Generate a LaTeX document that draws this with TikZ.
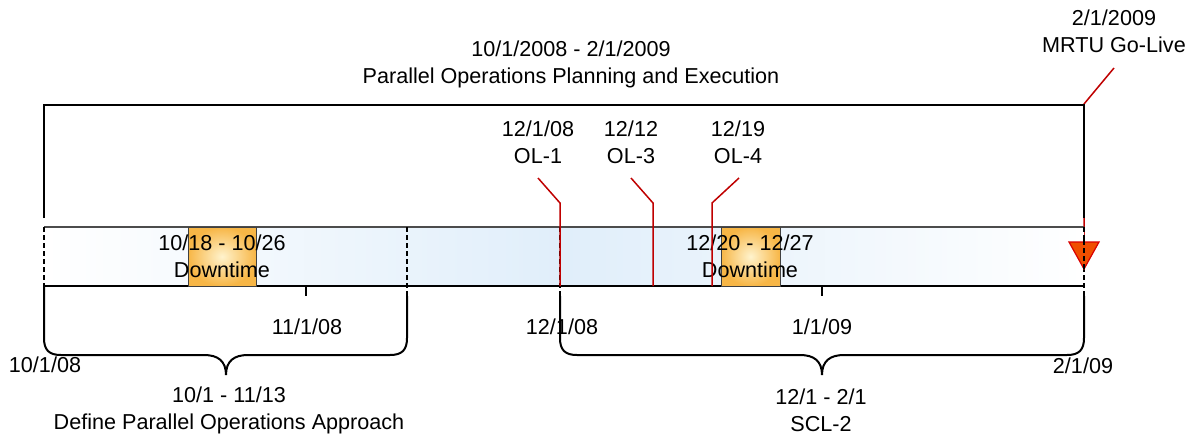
\documentclass[tikz,border=0pt]{standalone}
\usepackage{fontspec}
\setmainfont{Liberation Sans}
\definecolor{barblue}{RGB}{224,238,250}
\definecolor{boxedge}{RGB}{247,182,70}
\definecolor{boxmid}{RGB}{255,243,205}
\definecolor{golive}{RGB}{240,78,0}
\begin{document}
\begin{tikzpicture}[x=0.5pt,y=-0.5pt,
  lbl/.style={font=\fontsize{10.8}{13.5}\selectfont, align=center, inner sep=0pt, text=black},
  brk/.style={line width=1pt, black},
  dsh/.style={line width=0.9pt, black, dash pattern=on 2.5pt off 1.5pt},
  leader/.style={line width=0.75pt, red!75!black},
  dtbox/.style={draw=black!75, line width=0.5pt, inner color=boxmid, outer color=boxedge},
  tick/.style={line width=0.6pt, black}]
\useasboundingbox (0,0) rectangle (1201,440);

% MRTU red leader (under the black lines)
\node[lbl] (mrtu) at (1114,31.5) {2/1/2009\\MRTU Go-Live};
\coordinate (mrtuA) at (1114,68);
\coordinate (mrtuB) at (1084,104);
\coordinate (mrtuC) at (1084,250);
\draw[leader] (mrtuA) -- (mrtuB) -- (mrtuC);

% bar
\shade[left color=white, right color=white, middle color=barblue] (44,227) rectangle (1084,286);
\draw[line width=0.6pt, black!70] (44,227) -- (1084,227);
\draw[line width=0.6pt, black] (44,286) -- (1084,286);

% downtime boxes
\node[dtbox, minimum width=34pt, minimum height=29.5pt, inner sep=0pt] (dt1) at (222,256.5) {};
\node[dtbox, minimum width=29.5pt, minimum height=29.5pt, inner sep=0pt] (dt2) at (750.5,256.5) {};
\node[lbl] (dt1t) at (222,256) {10/18 - 10/26\\Downtime};
\node[lbl] (dt2t) at (750,256) {12/20 - 12/27\\Downtime};

% top bracket
\node[lbl] (top) at (571,64) {10/1/2008 - 2/1/2009\\Parallel Operations Planning and Execution};
\draw[brk] (44,218) -- (44,105) -- (1084,105) -- (1084,218);

% dashed lines through the bar
\draw[dsh] (44,227) -- (44,286);
\draw[dsh] (407,227) -- (407,296);
\draw[dsh] (560,227) -- (560,296);
\draw[dsh] (1084,227) -- (1084,296);

% OL leaders
\node[lbl] (ol1) at (538,142) {12/1/08\\OL-1};
\node[lbl] (ol3) at (631,142) {12/12\\OL-3};
\node[lbl] (ol4) at (738,142) {12/19\\OL-4};
\coordinate (ol1a) at (538,178); \coordinate (ol1b) at (560,203); \coordinate (ol1c) at (560,286);
\coordinate (ol3a) at (631,178); \coordinate (ol3b) at (653,203); \coordinate (ol3c) at (653,286);
\coordinate (ol4a) at (739,178); \coordinate (ol4b) at (712,203); \coordinate (ol4c) at (712,286);
\draw[leader] (ol1a) -- (ol1b) -- (ol1c);
\draw[leader] (ol3a) -- (ol3b) -- (ol3c);
\draw[leader] (ol4a) -- (ol4b) -- (ol4c);

% go-live triangle
\draw[fill=golive, draw=red!85!black, line width=0.6pt] (1069,242) -- (1099,242) -- (1084,269) -- cycle;
\draw[dsh] (1084,240) -- (1084,272);

% ticks
\draw[tick] (306,286) -- (306,296);
\draw[tick] (822,286) -- (822,296);

% date labels
\node[lbl] (d1101) at (307,327) {11/1/08};
\node[lbl] (d1201) at (562,327) {12/1/08};
\node[lbl] (d0101) at (822,327) {1/1/09};
\node[lbl] (d1001) at (45,365) {10/1/08};
\node[lbl] (d0201) at (1083,366) {2/1/09};

% lower braces
\draw[brk] (44,286) -- (44,338) .. controls (44,350) and (49,355) .. (61,355) -- (204,355)
  .. controls (218,355) and (226,361) .. (226,375) .. controls (226,361) and (234,355) .. (248,355)
  -- (390,355) .. controls (402,355) and (407,350) .. (407,338) -- (407,296);
\draw[brk] (560,296) -- (560,338) .. controls (560,350) and (565,355) .. (577,355) -- (800,355)
  .. controls (814,355) and (822,361) .. (822,375) .. controls (822,361) and (830,355) .. (844,355)
  -- (1067,355) .. controls (1079,355) and (1084,350) .. (1084,338) -- (1084,296);

\node[lbl] (b1) at (229,410) {10/1 - 11/13\\Define Parallel Operations Approach};
\node[lbl] (b2) at (821,410) {12/1 - 2/1\\SCL-2};
\end{tikzpicture}
\end{document}
